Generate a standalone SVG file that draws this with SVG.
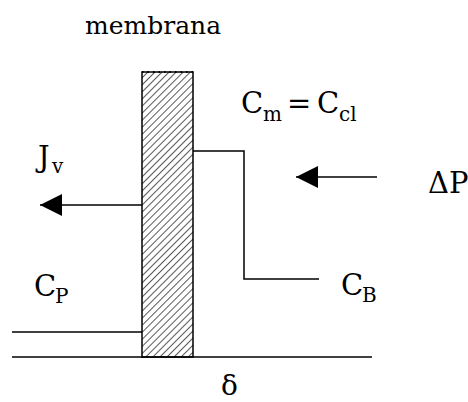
<svg xmlns="http://www.w3.org/2000/svg" width="468" height="402" viewBox="0 0 468 402">
  <style>
    .t { font-family: 'DejaVu Serif', 'Liberation Serif', serif; font-size: 29px; fill: #000; }
    .s { font-size: 20px; }
    .ln { stroke: #000; stroke-width: 1.5; fill: none; }
  </style>
  <defs>
    <pattern id="hatch" patternUnits="userSpaceOnUse" width="5" height="5" patternTransform="rotate(45)">
      <line x1="0" y1="0" x2="0" y2="5" stroke="#000" stroke-width="1.3"/>
    </pattern>
    <marker id="arrow" markerUnits="userSpaceOnUse" markerWidth="22" markerHeight="22" refX="22" refY="11" orient="auto">
      <polygon points="0,0 22,11 0,22" fill="#000"/>
    </marker>
  </defs>
  <rect width="468" height="402" fill="#fff"/>

  <g id="membrane">
    <rect x="142" y="72" width="51" height="285" fill="url(#hatch)" stroke="#000" stroke-width="1.5"/>
    <line x1="142" y1="72" x2="193" y2="72" stroke="#000" stroke-width="2" stroke-dasharray="1.5 4"/>
  </g>

  <g id="connectors">
    <line class="ln" x1="12" y1="357" x2="372" y2="357"/>
    <line class="ln" x1="12" y1="332" x2="142" y2="332"/>
    <polyline class="ln" points="193,151 244,151 244,279 319,279"/>
    <line class="ln" x1="142" y1="205" x2="40" y2="205" marker-end="url(#arrow)"/>
    <line class="ln" x1="377" y1="177" x2="296" y2="177" marker-end="url(#arrow)"/>
  </g>

  <g id="label-membrana">
    <text class="t" x="85" y="34" style="font-size:25px">membrana</text>
  </g>
  <g id="label-cm">
    <text class="t" x="241" y="113">C</text>
    <text class="t s" x="263" y="121">m</text>
    <text class="t" x="287" y="113">=</text>
    <text class="t" x="317" y="113">C</text>
    <text class="t s" x="339" y="121">cl</text>
  </g>
  <g id="label-dp">
    <text class="t" x="428" y="193">ΔP</text>
  </g>
  <g id="label-jv">
    <text class="t" x="38" y="167">J</text>
    <text class="t s" x="52" y="173">v</text>
  </g>
  <g id="label-cp">
    <text class="t" x="34" y="296">C</text>
    <text class="t s" x="55" y="303">P</text>
  </g>
  <g id="label-cb">
    <text class="t" x="341" y="295">C</text>
    <text class="t s" x="362" y="302">B</text>
  </g>
  <g id="label-delta">
    <text class="t" x="221" y="395" style="font-size:28px">δ</text>
  </g>
</svg>
